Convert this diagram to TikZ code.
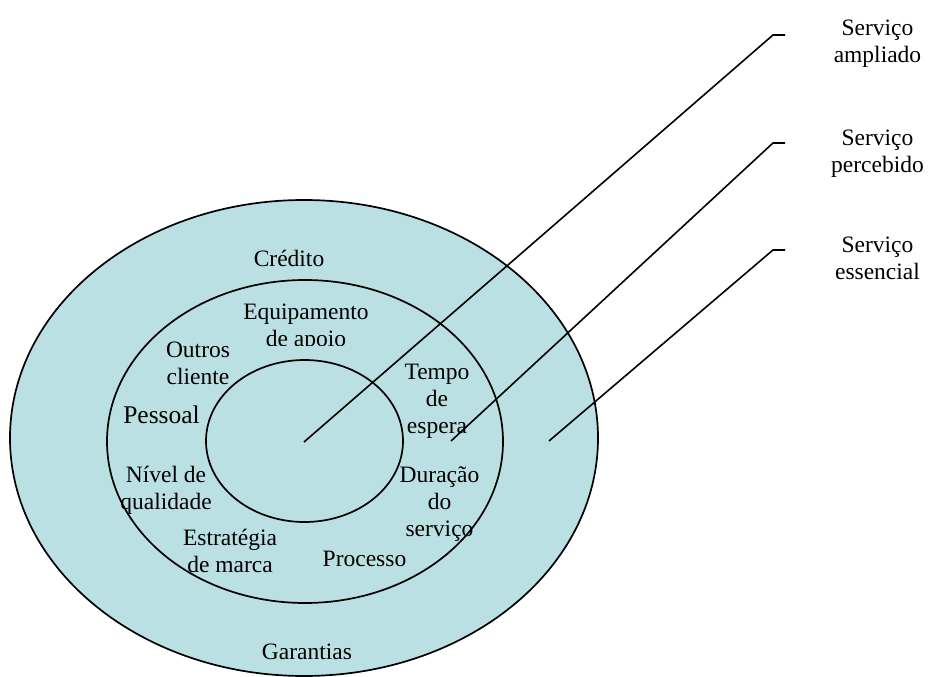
\documentclass[tikz,border=0pt]{standalone}
\usepackage{fontspec}
\setmainfont{Liberation Serif}
\definecolor{ringfill}{RGB}{187,224,228}
\begin{document}
\begin{tikzpicture}[x=1pt,y=-1pt,
  ring/.style={draw=black,line width=1.7pt,fill=ringfill},
  conn/.style={draw=black,line width=1.6pt},
  lbl/.style={inner sep=0pt,anchor=base,font=\fontsize{23.5}{27}\selectfont,align=center},
  biglbl/.style={lbl,font=\fontsize{25.5}{27}\selectfont}]
\useasboundingbox (0,0) rectangle (930,677);
% rings
\coordinate (oc) at (304,438);
\coordinate (mc) at (305,441.5);
\coordinate (ic) at (304.5,441);
\draw[ring] (oc) ellipse [x radius=294, y radius=238];
\draw[ring] (mc) ellipse [x radius=198, y radius=161.5];
\draw[ring] (ic) ellipse [x radius=98.5, y radius=81];
% texts (anchor = baseline of the last line)
\node[lbl] (cred) at (289,266) {Crédito};
\begin{scope}
\clip (200,290) rectangle (420,345);
\node[lbl] (equip) at (306,346) {Equipamento\\de apoio};
\end{scope}
\node[lbl] (outros) at (198,384) {Outros\\cliente};
\node[biglbl] (pess) at (161.5,423) {Pessoal};
\node[lbl] (tempo) at (437,433) {Tempo\\de\\espera};
\node[lbl] (nivel) at (166,509) {Nível de\\qualidade};
\node[lbl] (dur) at (439.5,536) {Duração\\do\\serviço};
\node[lbl] (estr) at (230,572) {Estratégia\\de marca};
\node[lbl] (proc) at (364.5,566) {Processo};
\node[lbl] (gar) at (307,659) {Garantias};
% right labels
\node[lbl] (amp) at (877.5,63) {Serviço\\ampliado};
\node[lbl] (perc) at (877.5,172) {Serviço\\percebido};
\node[lbl] (ess) at (877.5,279) {Serviço\\essencial};
% connectors
\coordinate (s1) at (304,442);
\coordinate (k1) at (773,35);
\coordinate (e1) at (785,35);
\coordinate (s2) at (451,441);
\coordinate (k2) at (773,143);
\coordinate (e2) at (785,143);
\coordinate (s3) at (549,441);
\coordinate (k3) at (773,250);
\coordinate (e3) at (785,250);
\draw[conn] (s1) -- (k1) -- (e1);
\draw[conn] (s2) -- (k2) -- (e2);
\draw[conn] (s3) -- (k3) -- (e3);
\end{tikzpicture}
\end{document}
